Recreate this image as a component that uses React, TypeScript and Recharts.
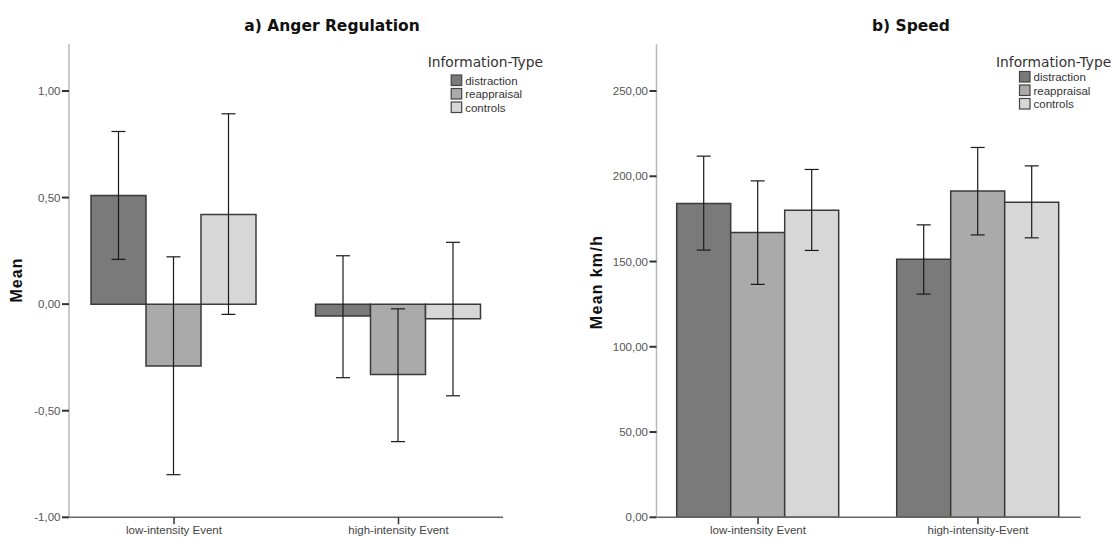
import React from 'react';
import { BarChart, Bar, XAxis, YAxis, ErrorBar } from 'recharts';

// categories
const angerEvents = ['low-intensity Event', 'high-intensity Event'];
const speedEvents = ['low-intensity Event', 'high-intensity-Event'];
const groupNames = ['distraction', 'reappraisal', 'controls'];

// a) Anger Regulation: means and 95% CI per information type
const angerDistraction = [0.51, -0.056];
const angerReappraisal = [-0.29, -0.33];
const angerControls = [0.42, -0.068];
const angerDistractionCI = [[0.21, 0.81], [-0.345, 0.227]];
const angerReappraisalCI = [[-0.8, 0.222], [-0.645, -0.022]];
const angerControlsCI = [[-0.048, 0.893], [-0.43, 0.29]];
const angerTicks = [-1, -0.5, 0, 0.5, 1];

// b) Speed (km/h)
const speedDistraction = [184.0, 151.4];
const speedReappraisal = [167.0, 191.3];
const speedControls = [180.1, 184.8];
const speedDistractionCI = [[156.7, 211.8], [130.9, 171.5]];
const speedReappraisalCI = [[136.6, 197.3], [165.6, 216.9]];
const speedControlsCI = [[156.5, 204.0], [163.9, 206.1]];
const speedTicks = [0, 50, 100, 150, 200, 250];

const fills = ['#7a7a7a', '#aaaaaa', '#d7d7d7'];
const TICK_FONT = '"Liberation Sans", Arial, sans-serif';

function buildRows(events: string[], means: number[][], cis: number[][][]) {
  return events.map((ev, i) => {
    const row: any = { event: ev };
    means.forEach((m, s) => {
      row['v' + s] = m[i];
      // ErrorBar wants [down, up] distances from the mean
      row['e' + s] = [m[i] - cis[s][i][0], cis[s][i][1] - m[i]];
    });
    return row;
  });
}

const angerRows = buildRows(
  angerEvents,
  [angerDistraction, angerReappraisal, angerControls],
  [angerDistractionCI, angerReappraisalCI, angerControlsCI]
);
const speedRows = buildRows(
  speedEvents,
  [speedDistraction, speedReappraisal, speedControls],
  [speedDistractionCI, speedReappraisalCI, speedControlsCI]
);

const fmt = (v: number) => v.toFixed(2).replace('.', ',');

function Panel({ rows, width, domain, ticks, axisWidth, marginRight, padding, gap }: any) {
  return (
    <BarChart
      width={width}
      height={538}
      data={rows}
      margin={{ top: 44.3, right: marginRight, bottom: 0.7, left: 0 }}
      barGap={0}
      barCategoryGap={gap}
    >
      <XAxis
        dataKey="event"
        height={20}
        padding={padding}
        axisLine={{ stroke: '#666', strokeWidth: 1.5 }}
        tickLine={{ stroke: '#333', strokeWidth: 1.5 }}
        tickSize={7}
        tickMargin={2}
        tick={{ fontSize: 11.5, fill: '#444', fontFamily: TICK_FONT }}
        interval={0}
      />
      <YAxis
        type="number"
        width={axisWidth}
        domain={domain}
        ticks={ticks}
        allowDataOverflow
        tickFormatter={fmt}
        axisLine={{ stroke: '#b8b8b8', strokeWidth: 1.5 }}
        tickLine={{ stroke: '#333', strokeWidth: 2 }}
        tickSize={7}
        tickMargin={1.5}
        tick={{ fontSize: 11.5, fill: '#555', fontFamily: TICK_FONT }}
      />
      {groupNames.map((name, s) => (
        <Bar
          key={name}
          name={name}
          dataKey={'v' + s}
          fill={fills[s]}
          stroke="#3a3a3a"
          strokeWidth={1.5}
          isAnimationActive={false}
        >
          <ErrorBar dataKey={'e' + s} width={7} stroke="#1a1a1a" strokeWidth={1.2} isAnimationActive={false} />
        </Bar>
      ))}
    </BarChart>
  );
}

function LegendBlock({ x, titleY, rowY }: { x: number; titleY: number; rowY: number[] }) {
  return (
    <g>
      <text x={x} y={titleY} fontFamily='"DejaVu Sans", sans-serif' fontSize={13.8} fill="#333">
        Information-Type
      </text>
      {groupNames.map((name, s) => (
        <g key={name}>
          <rect x={x + 23.5} y={rowY[s] - 9.5} width={10.5} height={10.5} fill={fills[s]} stroke="#444" strokeWidth={1.2} />
          <text x={x + 37.5} y={rowY[s]} fontFamily={TICK_FONT} fontSize={11.5} fill="#333">
            {name}
          </text>
        </g>
      ))}
    </g>
  );
}

export default function App() {
  return (
    <div style={{ position: 'absolute', left: 0, top: 0, width: 1117, height: 538, background: '#fff' }}>
      <div style={{ position: 'absolute', left: 0, top: 0 }}>
        <Panel
          rows={angerRows}
          width={560}
          domain={[-1, 1.219]}
          ticks={angerTicks}
          axisWidth={69}
          marginRight={57}
          padding={{ left: -7.25, right: -7.75 }}
          gap={29.25}
        />
      </div>
      <div style={{ position: 'absolute', left: 560, top: 0 }}>
        <Panel
          rows={speedRows}
          width={557}
          domain={[0, 277.4]}
          ticks={speedTicks}
          axisWidth={96.5}
          marginRight={36.3}
          padding={{ left: -8.5, right: -7.3 }}
          gap={28.7}
        />
      </div>
      <svg width={1117} height={538} style={{ position: 'absolute', left: 0, top: 0, pointerEvents: 'none' }}>
        <text x={332} y={30.7} textAnchor="middle" fontFamily='"DejaVu Sans", sans-serif' fontWeight="bold" fontSize={15.5} fill="#111">
          a) Anger Regulation
        </text>
        <text x={911} y={30.7} textAnchor="middle" fontFamily='"DejaVu Sans", sans-serif' fontWeight="bold" fontSize={15.5} fill="#111">
          b) Speed
        </text>
        <text
          transform="translate(21.6,280) rotate(-90)"
          textAnchor="middle"
          fontFamily={TICK_FONT}
          fontWeight="bold"
          fontSize={16}
          letterSpacing={1}
          fill="#111"
        >
          Mean
        </text>
        <text
          transform="translate(601.5,282) rotate(-90)"
          textAnchor="middle"
          fontFamily={TICK_FONT}
          fontWeight="bold"
          fontSize={16}
          letterSpacing={1.3}
          fill="#111"
        >
          Mean km/h
        </text>
        <LegendBlock x={427.7} titleY={67.3} rowY={[84.5, 98, 111.5]} />
        <LegendBlock x={996} titleY={67.3} rowY={[81, 94.5, 108]} />
      </svg>
    </div>
  );
}
